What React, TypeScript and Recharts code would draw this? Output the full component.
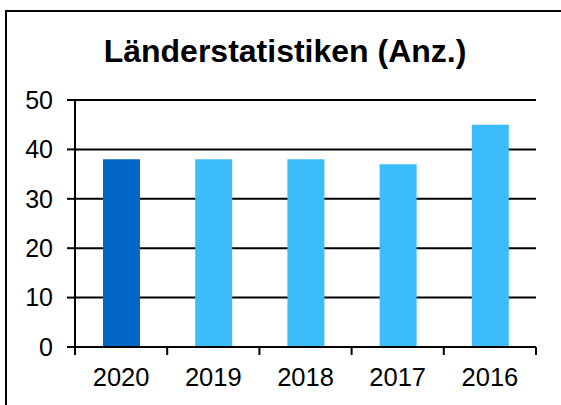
import React from 'react';
import { BarChart, Bar, XAxis, YAxis, CartesianGrid, Cell } from 'recharts';

const title = 'Länderstatistiken (Anz.)';
const categories = ['2020', '2019', '2018', '2017', '2016'];
const values = [38, 38, 38, 37, 45];
const yTicks = [0, 10, 20, 30, 40, 50];
const highlightCategory = '2020';

const data = categories.map((c, i) => ({ year: c, value: values[i] }));

const FONT = '"Liberation Sans", Arial, sans-serif';

const XTick = (props: any) => {
  const { x, y, payload, index, tickSize = 8, tickMargin = 13 } = props;
  const off = payload.offset || 0;
  const top = y - tickSize - tickMargin;
  return (
    <g>
      <line x1={x - off} x2={x - off} y1={top} y2={top + tickSize} stroke="#000" strokeWidth={2} />
      {index === categories.length - 1 && (
        <line x1={x + off} x2={x + off} y1={top} y2={top + tickSize} stroke="#000" strokeWidth={2} />
      )}
      <text x={x} y={y} dy="0.71em" textAnchor="middle" fontSize={25.5} fontFamily={FONT} fill="#000">
        {payload.value}
      </text>
    </g>
  );
};

export default function App() {
  return (
    <div style={{ position: 'fixed', left: 0, top: 0, width: 561, height: 405, overflow: 'hidden', background: '#fff' }}>
      <div style={{ position: 'absolute', left: 5, top: 10, width: 700, height: 500, border: '2px solid #000', boxSizing: 'border-box' }} />
      <div style={{ position: 'absolute', left: 0, top: 0 }}>
        <BarChart width={561} height={405} data={data} margin={{ top: 100, right: 25, bottom: 28, left: 0 }}>
          <CartesianGrid vertical={false} stroke="#000" strokeWidth={2} />
          <XAxis
            dataKey="year"
            height={30}
            axisLine={{ stroke: '#000', strokeWidth: 2 }}
            tickLine={{ stroke: 'transparent' }}
            tickSize={8}
            tickMargin={13}
            tick={<XTick />}
            interval={0}
          />
          <YAxis
            width={75}
            domain={[0, 50]}
            ticks={yTicks}
            interval={0}
            axisLine={{ stroke: '#000', strokeWidth: 2 }}
            tickLine={{ stroke: '#000', strokeWidth: 2 }}
            tickSize={8}
            tickMargin={14}
            tick={{ fontSize: 25, fontFamily: FONT, fill: '#000' }}
          />
          <Bar dataKey="value" barSize={37} isAnimationActive={false}>
            {data.map((d) => (
              <Cell key={d.year} fill={d.year === highlightCategory ? '#0366C9' : '#3CBCF8'} />
            ))}
          </Bar>
        </BarChart>
      </div>
      <svg width={561} height={405} style={{ position: 'absolute', left: 0, top: 0, pointerEvents: 'none' }}>
        <text x={285} y={62} textAnchor="middle" fontSize={32} fontWeight="bold" fontFamily={FONT} fill="#000">
          {title}
        </text>
      </svg>
    </div>
  );
}
